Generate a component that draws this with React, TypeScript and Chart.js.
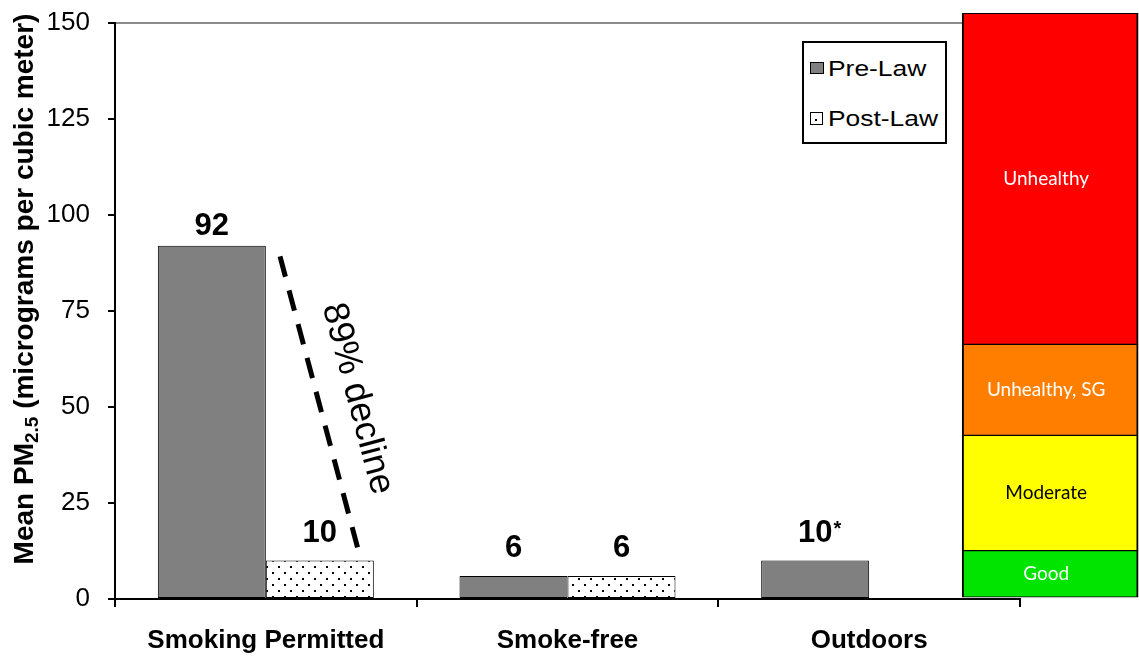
import React, { useEffect, useRef } from 'react';
import { Chart, registerables } from 'chart.js';

Chart.register(...registerables);

// ---------- data ----------
const categories = ['Smoking Permitted', 'Smoke-free', 'Outdoors'];
const preLaw: (number | null)[] = [92, 6, 10];
const postLaw: (number | null)[] = [10, 6, null];
const preLabels = ['92', '6', '10'];
const preNotes = ['', '', '*'];
const postLabels = ['10', '6', ''];
const yTicks = [0, 25, 50, 75, 100, 125, 150];
const legendNames = ['Pre-Law', 'Post-Law'];

const aqiNames = ['Good', 'Moderate', 'Unhealthy, SG', 'Unhealthy'];
const aqiLow = [0.5, 12.6, 42.6, 66.3];
const aqiHigh = [12.6, 42.6, 66.3, 152.5];
const aqiColors = ['#00E400', '#FFFF00', '#FF7E00', '#FF0000'];
const aqiTextColors = ['#FFFFFF', '#000000', '#FFFFFF', '#FFFFFF'];
const aqiSlot = 2.6;

const declineX = [0.047, 0.3055];
const declineY = [89.2, 13.0];
const declineText = '89% decline';

const yTitleMain = 'Mean PM';
const yTitleSub = '2.5';
const yTitleRest = ' (micrograms per cubic meter)';

const FONT = '"Liberation Sans", Arial, Helvetica, sans-serif';

const annotate = {
  id: 'annotate',
  afterDatasetsDraw(chart: any) {
    const { ctx, scales } = chart;
    ctx.save();
    // AQI band names
    aqiNames.forEach((name, i) => {
      const el = chart.getDatasetMeta(3 + i).data[0];
      if (!el) return;
      const p = el.getProps(['x', 'y', 'base'], true);
      ctx.font = '19px Lato, "Open Sans", sans-serif';
      ctx.fillStyle = aqiTextColors[i];
      ctx.textAlign = 'center';
      ctx.textBaseline = 'middle';
      ctx.fillText(name, p.x - 4, (p.y + p.base) / 2);
    });

    // value labels
    ctx.fillStyle = '#000';
    ctx.textBaseline = 'alphabetic';
    ctx.textAlign = 'center';
    const drawLabel = (el: any, text: string, note: string, value: number) => {
      if (!el || !text) return;
      const p = el.getProps(['x', 'y'], true);
      const gap = value > 50 ? 11 : 19;
      const base = p.y - gap;
      ctx.font = 'bold 31px ' + FONT;
      ctx.textAlign = 'center';
      ctx.fillText(text, p.x, base);
      if (note) {
        const w = ctx.measureText(text).width;
        ctx.font = 'bold 20px ' + FONT;
        ctx.textAlign = 'left';
        ctx.fillText(note, p.x + w / 2 + 1, base - 7);
      }
    };
    const preMeta = chart.getDatasetMeta(0);
    const postMeta = chart.getDatasetMeta(1);
    preLaw.forEach((v, i) => {
      if (v !== null) drawLabel(preMeta.data[i], preLabels[i], preNotes[i], v);
    });
    postLaw.forEach((v, i) => {
      if (v !== null) drawLabel(postMeta.data[i], postLabels[i], '', v);
    });

    // decline annotation text
    const xs = scales.x2;
    const ys = scales.y;
    const x1 = xs.getPixelForValue(declineX[0]);
    const y1 = ys.getPixelForValue(declineY[0]);
    const x2 = xs.getPixelForValue(declineX[1]);
    const y2 = ys.getPixelForValue(declineY[1]);
    const dx = x2 - x1;
    const dy = y2 - y1;
    const len = Math.sqrt(dx * dx + dy * dy);
    const ux = dx / len;
    const uy = dy / len;
    const nx = uy;
    const ny = -ux;
    const cx = (x1 + x2) / 2 + nx * 38 + ux * 6;
    const cy = (y1 + y2) / 2 + ny * 38 + uy * 6;
    ctx.translate(cx, cy);
    ctx.rotate(Math.atan2(dy, dx));
    ctx.font = '36px ' + FONT;
    ctx.textAlign = 'center';
    ctx.textBaseline = 'middle';
    ctx.fillStyle = '#000';
    ctx.fillText(declineText, 0, 0);
    ctx.restore();
  },
  afterDraw(chart: any) {
    const { ctx } = chart;
    ctx.save();
    ctx.translate(33, 289);
    ctx.rotate(-Math.PI / 2);
    const mainFont = 'bold 28px ' + FONT;
    const subFont = 'bold 19px ' + FONT;
    ctx.font = mainFont;
    const w1 = ctx.measureText(yTitleMain).width;
    const w3 = ctx.measureText(yTitleRest).width;
    ctx.font = subFont;
    const w2 = ctx.measureText(yTitleSub).width;
    const total = w1 + w2 + w3;
    let x = -total / 2;
    ctx.fillStyle = '#000';
    ctx.textAlign = 'left';
    ctx.textBaseline = 'alphabetic';
    ctx.font = mainFont;
    ctx.fillText(yTitleMain, x, 0);
    x += w1;
    ctx.font = subFont;
    ctx.fillText(yTitleSub, x, 5);
    x += w2;
    ctx.font = mainFont;
    ctx.fillText(yTitleRest, x, 0);
    ctx.restore();
  },
};

export default function App() {
  const ref = useRef<HTMLCanvasElement>(null);

  useEffect(() => {
    const canvas = ref.current;
    if (!canvas) return;
    const pc = document.createElement('canvas');
    pc.width = 12;
    pc.height = 12;
    const pctx = pc.getContext('2d')!;
    pctx.fillStyle = '#FFFFFF';
    pctx.fillRect(0, 0, 12, 12);
    pctx.fillStyle = '#000000';
    pctx.fillRect(2, 2, 2, 2);
    pctx.fillRect(8, 8, 2, 2);
    const ctx2 = canvas.getContext('2d')!;
    const pattern = ctx2.createPattern(pc, 'repeat');

    const aqiDatasets = aqiNames.map((name, i) => ({
      type: 'bar',
      label: name,
      indexAxis: 'x',
      xAxisID: 'x2',
      yAxisID: 'y',
      data: [{ x: aqiSlot, y: [aqiLow[i], aqiHigh[i]] }],
      backgroundColor: aqiColors[i],
      borderColor: '#000000',
      borderWidth: { left: 2, right: 2, top: 1, bottom: 1 },
      borderSkipped: false,
      grouped: false,
      barThickness: 176,
      clip: false,
      order: 3,
    }));

    const chart = new Chart(canvas, {
      type: 'bar',
      data: {
        labels: categories,
        datasets: [
          {
            label: legendNames[0],
            indexAxis: 'x',
            data: preLaw,
            backgroundColor: '#808080',
            borderColor: '#000000',
            borderWidth: 1,
            borderSkipped: false,
            categoryPercentage: 0.716,
            barPercentage: 1,
            xAxisID: 'x',
            yAxisID: 'y',
            order: 2,
          },
          {
            label: legendNames[1],
            indexAxis: 'x',
            data: postLaw,
            backgroundColor: pattern as any,
            borderColor: '#000000',
            borderWidth: 1,
            borderSkipped: false,
            categoryPercentage: 0.716,
            barPercentage: 1,
            xAxisID: 'x',
            yAxisID: 'y',
            order: 2,
          },
          {
            type: 'line',
            label: 'decline',
            indexAxis: 'x',
            xAxisID: 'x2',
            yAxisID: 'y',
            data: declineX.map((x, i) => ({ x, y: declineY[i] })),
            borderColor: '#000000',
            borderWidth: 5,
            borderDash: [21, 14],
            borderCapStyle: 'butt',
            pointRadius: 0,
            fill: false,
            tension: 0,
            order: 0,
          } as any,
          ...(aqiDatasets as any[]),
        ],
      },
      options: {
        // chart-level index axis set to 'y' so that the bar grouping counts a
        // single index-axis group; every dataset declares indexAxis 'x' itself.
        indexAxis: 'y',
        animation: false,
        responsive: true,
        maintainAspectRatio: false,
        events: [],
        layout: { padding: { left: 0, top: 23, right: 119, bottom: 0 } },
        plugins: {
          legend: { display: false },
          tooltip: { enabled: false },
        },
        scales: {
          x: {
            type: 'category',
            axis: 'x',
            position: 'bottom',
            offset: true,
            grid: {
              offset: true,
              drawOnChartArea: false,
              drawTicks: true,
              tickLength: 8,
              tickColor: '#000000',
              tickWidth: 2,
              lineWidth: 2,
              color: '#000000',
            },
            border: { display: true, color: '#000000', width: 2 },
            ticks: {
              color: '#000000',
              font: { family: FONT, size: 26, weight: 'bold' },
              padding: 18,
              maxRotation: 0,
              autoSkip: false,
            },
            afterFit: (s: any) => {
              s.height = 57;
              s.paddingLeft = 0;
              s.paddingRight = 0;
            },
          },
          x2: {
            type: 'linear',
            axis: 'x',
            position: 'bottom',
            display: false,
            min: -0.5,
            max: 2.5,
            offset: false,
            grid: { offset: false },
          },
          y: {
            type: 'linear',
            axis: 'y',
            position: 'left',
            min: 0,
            max: 150,
            offset: false,
            reverse: false,
            afterBuildTicks: (s: any) => {
              s.ticks = yTicks.map((v) => ({ value: v }));
            },
            grid: {
              offset: false,
              drawOnChartArea: true,
              drawTicks: true,
              tickLength: 7,
              tickColor: '#000000',
              tickWidth: 2,
              lineWidth: 2,
              color: (c: any) =>
                c.tick && c.tick.value === 150 ? '#8C8C8C' : 'rgba(0,0,0,0)',
            },
            border: { display: true, color: '#000000', width: 2 },
            ticks: {
              color: '#000000',
              font: { family: FONT, size: 26 },
              padding: 18,
            },
            afterFit: (s: any) => {
              s.width = 115;
              s.paddingTop = 0;
              s.paddingBottom = 0;
            },
          },
        },
      } as any,
      plugins: [annotate],
    } as any);

    return () => {
      chart.destroy();
    };
  }, []);

  const textStyle: React.CSSProperties = {
    position: 'absolute',
    left: 828,
    fontFamily: FONT,
    fontSize: 22,
    lineHeight: '22px',
    color: '#000',
    whiteSpace: 'nowrap',
    transform: 'scaleX(1.2)',
    transformOrigin: 'left center',
  };

  return (
    <div
      style={{
        position: 'absolute',
        left: 0,
        top: 0,
        width: 1139,
        height: 656,
        background: '#FFFFFF',
      }}
    >
      <canvas ref={ref} style={{ display: 'block' }} />
      <div
        style={{
          position: 'absolute',
          left: 802,
          top: 41,
          width: 145,
          height: 103,
          border: '2px solid #000',
          boxSizing: 'border-box',
          background: '#FFFFFF',
        }}
      />
      <div
        style={{
          position: 'absolute',
          left: 810,
          top: 62,
          width: 14,
          height: 12,
          background: '#808080',
          border: '1px solid #000',
          boxSizing: 'border-box',
        }}
      />
      <div style={{ ...textStyle, top: 58 }}>{legendNames[0]}</div>
      <div
        style={{
          position: 'absolute',
          left: 810,
          top: 112,
          width: 13,
          height: 13,
          background: '#FFFFFF',
          border: '1px solid #000',
          boxSizing: 'border-box',
        }}
      >
        <div
          style={{
            position: 'absolute',
            left: 4,
            top: 6,
            width: 2,
            height: 2,
            background: '#000',
          }}
        />
      </div>
      <div style={{ ...textStyle, top: 108 }}>{legendNames[1]}</div>
    </div>
  );
}
